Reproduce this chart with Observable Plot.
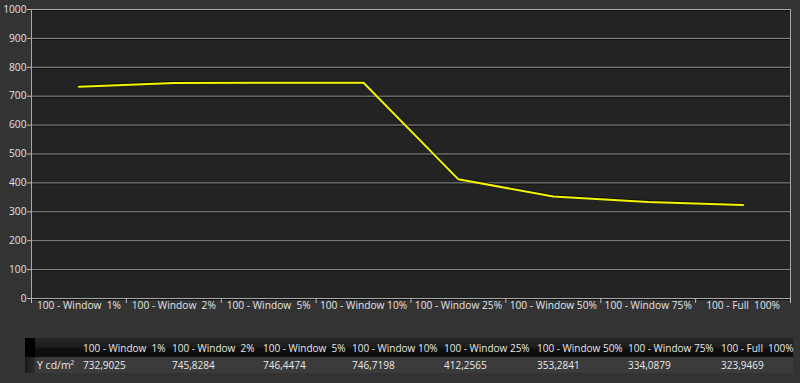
<!DOCTYPE html>
<html><head><meta charset="utf-8">
<script src="https://cdn.jsdelivr.net/npm/d3@7"></script>
<script src="https://cdn.jsdelivr.net/npm/@observablehq/plot@0.6"></script>
<style>
html,body{margin:0;padding:0;background:#333333;width:800px;height:383px;overflow:hidden;font-family:"Open Sans",sans-serif;}
#chart{position:absolute;left:0;top:0;}
svg text{white-space:pre;}
#tbl{position:absolute;left:25px;top:338px;border-collapse:collapse;border-spacing:0;font-size:10px;color:#e8e8e8;table-layout:fixed;width:768px;}
#tbl td{padding:0;white-space:pre;overflow:visible;line-height:14px;}
#tbl tr.head td{height:19px;background:linear-gradient(to bottom,#262626 0%,#1e1e1e 45%,#111 55%,#0c0c0c 100%);}
#tbl tr.head td.corner{background:#000;}
#tbl tr.vals td{height:16px;background:#3b3b3b;}
#tbl tr.vals td.corner{background:linear-gradient(to right,#1a1a1a,#2c2c2c);}
#tbl td.lab{padding-left:2px;font-size:10.5px;}
</style></head>
<body>
<div id="chart"></div>
<table id="tbl"></table>
<script>
const categories = ["100 - Window  1%","100 - Window  2%","100 - Window  5%","100 - Window 10%","100 - Window 25%","100 - Window 50%","100 - Window 75%","100 - Full  100%"];
const luminance = [732.9025, 745.8284, 746.4474, 746.7198, 412.2565, 353.2841, 334.0879, 323.9469];
const yTicks = [0,100,200,300,400,500,600,700,800,900,1000];
const seriesLabel = "Y cd/m²";

const n = categories.length;
const data = categories.map((c, i) => ({i, c, v: luminance[i]}));
const fmt = v => v.toFixed(4).replace(".", ",");

const font = '"Open Sans", sans-serif';
const plot = Plot.plot({
  width: 800, height: 320,
  marginLeft: 31, marginRight: 10, marginTop: 9, marginBottom: 22,
  style: {background: "transparent", color: "#dddddd", fontFamily: font, fontSize: "10.2px"},
  x: {domain: [0, n], axis: null, label: null},
  y: {domain: [0, 1000], axis: null, label: null},
  marks: [
    Plot.frame({fill: "#232323", stroke: null}),
    Plot.gridY(yTicks, {stroke: "#0e0e0e", strokeOpacity: 1, dy: 1}),
    Plot.gridY(yTicks, {stroke: "#8c8c8c", strokeOpacity: 1}),
    Plot.frame({stroke: "#a8a8a8"}),
    Plot.axisY({ticks: yTicks, tickSize: 4, tickPadding: 1, color: "#e2e2e2", stroke: "#bbbbbb", label: null,
      tickFormat: d3.format("d")}),
    Plot.axisX({ticks: d3.range(n + 1), tickSize: 5, tickFormat: () => "", stroke: "#bbbbbb", label: null}),
    Plot.axisX({ticks: d3.range(n).map(i => i + 0.5), tickSize: 0, tickPadding: 3, color: "#e2e2e2", label: null,
      tickFormat: t => categories[Math.floor(t)]}),
    Plot.line(data, {x: d => d.i + 0.5, y: "v", stroke: "#000", strokeOpacity: 0.6, strokeWidth: 2, dy: -1}),
    Plot.line(data, {x: d => d.i + 0.5, y: "v", stroke: "#f5f500", strokeWidth: 2})
  ]
});
document.getElementById("chart").append(plot);

// data table below
const colWidths = [10, 48, 89, 91, 89, 92, 93, 91, 93, 72];
const tbl = d3.select("#tbl");
tbl.append("colgroup").selectAll("col").data(colWidths).join("col").style("width", d => d + "px");
const head = tbl.append("tr").attr("class", "head");
head.append("td").attr("class", "corner");
head.append("td");
head.selectAll("td.h").data(categories).join("td").attr("class", "h").text(d => d);
const vals = tbl.append("tr").attr("class", "vals");
vals.append("td").attr("class", "corner");
vals.append("td").attr("class", "lab").text(seriesLabel);
vals.selectAll("td.v").data(luminance).join("td").attr("class", "v").text(d => fmt(d));
</script>
</body></html>
